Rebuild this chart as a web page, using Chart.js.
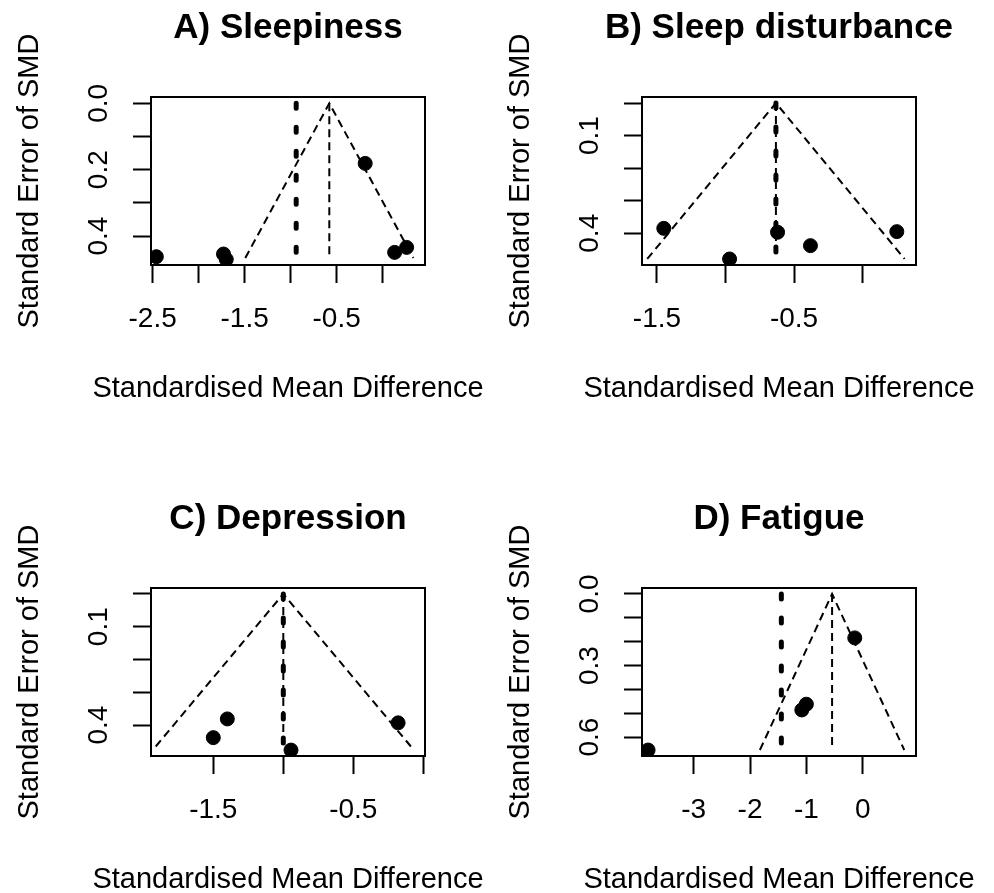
<!DOCTYPE html>
<html>
<head>
    <title>Funnel plots</title>
    <script src="https://cdn.jsdelivr.net/npm/chart.js"></script>
    <style>
        body { margin: 0; width: 994px; height: 893px; overflow: hidden; background: #fff; position: relative; }
        canvas { position: absolute; }
    </style>
</head>
<body>
    <canvas id="panelA" width="576" height="491" style="left:0px;top:0px"></canvas>
    <canvas id="panelB" width="576" height="491" style="left:491px;top:0px"></canvas>
    <canvas id="panelC" width="576" height="491" style="left:0px;top:491px"></canvas>
    <canvas id="panelD" width="576" height="491" style="left:491px;top:491px"></canvas>

    <script>
        // A) Sleepiness
        const smdA = [-2.46, -1.73, -1.70, -0.19, 0.13, 0.26];
        const seA = [0.462, 0.454, 0.470, 0.181, 0.449, 0.434];
        const fixedA = -0.58, randomA = -0.94, seMaxA = 0.466;
        const xTicksA = [-2.5, -2, -1.5, -1, -0.5, 0];
        const xLabelsA = ['-2.5', '', '-1.5', '', '-0.5', ''];
        const yTicksA = [0, 0.1, 0.2, 0.3, 0.4];
        const yLabelsA = ['0.0', '', '0.2', '', '0.4'];
        const xLimA = [-2.518, 0.46], yLimA = [-0.019, 0.487];

        // B) Sleep disturbance
        const smdB = [-1.45, -0.97, -0.62, -0.38, 0.25];
        const seB = [0.385, 0.479, 0.397, 0.438, 0.395];
        const fixedB = -0.632, randomB = -0.632, seMaxB = 0.479;
        const xTicksB = [-1.5, -1, -0.5, 0];
        const xLabelsB = ['-1.5', '', '-0.5', ''];
        const yTicksB = [0, 0.1, 0.2, 0.3, 0.4];
        const yLabelsB = ['', '0.1', '', '', '0.4'];
        const xLimB = [-1.609, 0.39], yLimB = [-0.0185, 0.4975];

        // C) Depression
        const smdC = [-1.50, -1.40, -0.945, -0.18];
        const seC = [0.438, 0.381, 0.476, 0.393];
        const fixedC = -1.0, randomC = -1.0, seMaxC = 0.465;
        const xTicksC = [-1.5, -1, -0.5, 0];
        const xLabelsC = ['-1.5', '', '-0.5', ''];
        const yTicksC = [0, 0.1, 0.2, 0.3, 0.4];
        const yLabelsC = ['', '0.1', '', '', '0.4'];
        const xLimC = [-1.945, 0.012], yLimC = [-0.018, 0.494];

        // D) Fatigue
        const smdD = [-3.81, -1.08, -1.00, -0.14];
        const seD = [0.654, 0.486, 0.462, 0.184];
        const fixedD = -0.543, randomD = -1.444, seMaxD = 0.654;
        const xTicksD = [-3, -2, -1, 0];
        const xLabelsD = ['-3', '-2', '-1', '0'];
        const yTicksD = [0, 0.1, 0.2, 0.3, 0.4, 0.5, 0.6];
        const yLabelsD = ['0.0', '', '', '0.3', '', '', '0.6'];
        const xLimD = [-3.918, 0.947], yLimD = [-0.025, 0.679];

        const FONT = "'Liberation Sans', Arial, sans-serif";

        // frame round the plot region, drawn last like R's box()
        const boxPlugin = {
            id: 'box',
            afterDraw(chart) {
                const a = chart.chartArea, ctx = chart.ctx;
                ctx.save();
                ctx.lineWidth = 2;
                ctx.strokeStyle = '#000';
                ctx.strokeRect(a.left, a.top, a.right - a.left, a.bottom - a.top);
                ctx.restore();
            }
        };

        function funnel(id, title, smd, se, fixed, random, seMax, xTicks, xLabels, yTicks, yLabels, xLim, yLim) {
            const thin = { borderColor: '#000', borderWidth: 2, borderDash: [8, 5], pointRadius: 0, fill: false, tension: 0, clip: 0, order: 1 };
            new Chart(document.getElementById(id), {
                type: 'scatter',
                data: {
                    datasets: [{
                        data: smd.map((x, i) => ({ x: x, y: se[i] })),
                        backgroundColor: '#000',
                        borderColor: '#000',
                        pointRadius: 7,
                        pointHoverRadius: 7,
                        clip: 0,
                        order: 0
                    }, Object.assign({
                        type: 'line',
                        data: [{ x: fixed - 1.96 * seMax, y: seMax }, { x: fixed, y: 0 }, { x: fixed + 1.96 * seMax, y: seMax }]
                    }, thin), Object.assign({
                        type: 'line',
                        data: [{ x: fixed, y: 0 }, { x: fixed, y: seMax }]
                    }, thin), {
                        type: 'line',
                        data: [{ x: random, y: 0 }, { x: random, y: seMax }],
                        borderColor: '#000',
                        borderWidth: 5,
                        borderDash: [5, 19],
                        borderCapStyle: 'round',
                        pointRadius: 0,
                        fill: false,
                        clip: 0,
                        order: 1
                    }]
                },
                options: {
                    responsive: false,
                    animation: false,
                    layout: { padding: 0 },
                    plugins: {
                        legend: { display: false },
                        tooltip: { enabled: false },
                        title: {
                            display: true,
                            text: title,
                            color: '#000',
                            font: { family: FONT, size: 35, weight: 'bold' },
                            padding: { top: 7, bottom: 48 }
                        },
                        subtitle: {
                            display: true,
                            position: 'bottom',
                            text: 'Standardised Mean Difference',
                            color: '#000',
                            font: { family: FONT, size: 29 },
                            padding: { top: 26.6, bottom: 84.6 }
                        }
                    },
                    scales: {
                        x: {
                            type: 'linear',
                            min: xLim[0],
                            max: xLim[1],
                            afterBuildTicks: s => { s.ticks = xTicks.map(v => ({ value: v })); },
                            afterFit: s => { s.height = 80; },
                            ticks: {
                                autoSkip: false,
                                maxRotation: 0,
                                padding: 19,
                                color: '#000',
                                font: { family: FONT, size: 28 },
                                callback: (v, i) => xLabels[i]
                            },
                            grid: { drawOnChartArea: false, drawTicks: true, tickLength: 18, tickWidth: 2, tickColor: '#000' },
                            border: { display: false }
                        },
                        y: {
                            type: 'linear',
                            reverse: true,
                            min: yLim[0],
                            max: yLim[1],
                            afterBuildTicks: s => { s.ticks = yTicks.map(v => ({ value: v })); },
                            afterFit: s => { s.width = 151; },
                            ticks: {
                                autoSkip: false,
                                minRotation: 90,
                                maxRotation: 90,
                                crossAlign: 'center',
                                padding: 14,
                                color: '#000',
                                font: { family: FONT, size: 28 },
                                callback: (v, i) => yLabels[i]
                            },
                            grid: { drawOnChartArea: false, drawTicks: true, tickLength: 18, tickWidth: 2, tickColor: '#000' },
                            border: { display: false },
                            title: {
                                display: true,
                                text: 'Standard Error of SMD',
                                color: '#000',
                                font: { family: FONT, size: 29 },
                                padding: { top: 13, bottom: 0 }
                            }
                        },
                        // empty right margin so titles centre over the plot region
                        yRight: {
                            type: 'linear',
                            position: 'right',
                            display: true,
                            afterFit: s => { s.width = 151; },
                            ticks: { display: false },
                            grid: { display: false },
                            border: { display: false }
                        }
                    }
                },
                plugins: [boxPlugin]
            });
        }

        funnel('panelA', 'A) Sleepiness', smdA, seA, fixedA, randomA, seMaxA, xTicksA, xLabelsA, yTicksA, yLabelsA, xLimA, yLimA);
        funnel('panelB', 'B) Sleep disturbance', smdB, seB, fixedB, randomB, seMaxB, xTicksB, xLabelsB, yTicksB, yLabelsB, xLimB, yLimB);
        funnel('panelC', 'C) Depression', smdC, seC, fixedC, randomC, seMaxC, xTicksC, xLabelsC, yTicksC, yLabelsC, xLimC, yLimC);
        funnel('panelD', 'D) Fatigue', smdD, seD, fixedD, randomD, seMaxD, xTicksD, xLabelsD, yTicksD, yLabelsD, xLimD, yLimD);
    </script>
</body>
</html>
